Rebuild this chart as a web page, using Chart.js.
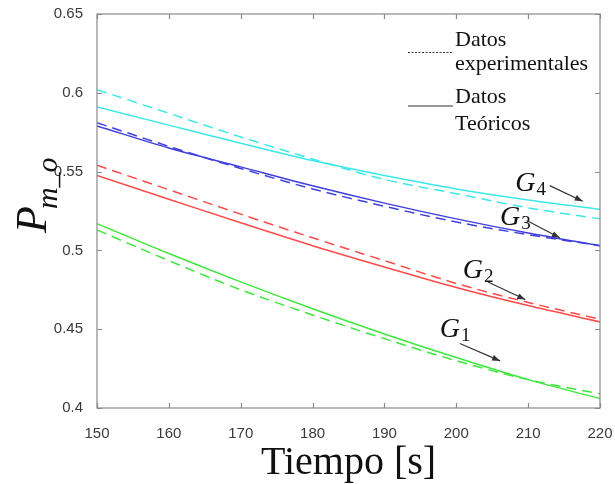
<!DOCTYPE html>
<html>
<head>
<meta charset="utf-8">
<script src="https://cdn.jsdelivr.net/npm/chart.js@4/dist/chart.umd.min.js"></script>
<style>
  html, body { margin: 0; padding: 0; background: #fff; }
  #wrap { width: 615px; height: 484px; }
</style>
</head>
<body>
<div id="wrap"><canvas id="c" width="615" height="484"></canvas></div>
<script>
// ---- Data ----
const times = [150, 160, 170, 180, 190, 200, 210, 220];
const xTicks = [150, 160, 170, 180, 190, 200, 210, 220];
const yTicks = [0.4, 0.45, 0.5, 0.55, 0.6, 0.65];

const g1Exp = [0.513, 0.4935, 0.475, 0.459, 0.444, 0.430, 0.418, 0.409];
const g1Teo = [0.517, 0.498, 0.480, 0.463, 0.447, 0.432, 0.418, 0.406];
const g2Exp = [0.554, 0.5385, 0.523, 0.508, 0.4935, 0.479, 0.467, 0.4563];
const g2Teo = [0.5475, 0.5325, 0.5175, 0.503, 0.4895, 0.4765, 0.465, 0.4546];
const g3Exp = [0.581, 0.566, 0.552, 0.539, 0.528, 0.518, 0.510, 0.503];
const g3Teo = [0.579, 0.565, 0.553, 0.541, 0.530, 0.520, 0.511, 0.503];
const g4Exp = [0.602, 0.587, 0.572, 0.558, 0.545, 0.536, 0.527, 0.520];
const g4Teo = [0.591, 0.5795, 0.568, 0.557, 0.5475, 0.539, 0.532, 0.526];

const legendExpLines = ['Datos', 'experimentales'];
const legendTeoLines = ['Datos', 'Teóricos'];
const xTitle = 'Tiempo [s]';
const yTitleMain = 'P';
const yTitleSub = 'm_o';

// group labels: [name, subscript, labelT, labelV, arrowFromT, arrowFromV, arrowToT, arrowToV]
const groupLabels = [
  ['G', '1', 197.7, 0.4449, 200.5, 0.4409, 206.1, 0.4299],
  ['G', '2', 200.9, 0.4823, 204.4, 0.4799, 209.6, 0.4688],
  ['G', '3', 206.1, 0.5158, 209.8, 0.5190, 214.4, 0.5080],
  ['G', '4', 208.2, 0.5380, 213.0, 0.5411, 217.6, 0.5312]
];

const colors = { g1: '#3de83d', g2: '#ff4a4a', g3: '#3f3fdc', g4: '#3ee8e8' };

function pts(arr) { return times.map((t, i) => ({ x: t, y: arr[i] })); }
function ds(label, arr, color, dashed) {
  return {
    label, data: pts(arr), borderColor: color, backgroundColor: color,
    borderWidth: 1.5, pointRadius: 0, fill: false,
    cubicInterpolationMode: 'monotone',
    borderDash: dashed ? [10, 6] : []
  };
}

const datasets = [
  ds('G1 exp', g1Exp, colors.g1, true), ds('G1 teo', g1Teo, colors.g1, false),
  ds('G2 exp', g2Exp, colors.g2, true), ds('G2 teo', g2Teo, colors.g2, false),
  ds('G3 exp', g3Exp, colors.g3, true), ds('G3 teo', g3Teo, colors.g3, false),
  ds('G4 exp', g4Exp, colors.g4, true), ds('G4 teo', g4Teo, colors.g4, false)
];

const decorPlugin = {
  id: 'decor',
  afterDraw(chart) {
    const ctx = chart.ctx;
    const a = chart.chartArea;
    const xs = chart.scales.x, ys = chart.scales.y;
    ctx.save();
    // box
    ctx.strokeStyle = '#8a8a8a';
    ctx.lineWidth = 1.2;
    ctx.setLineDash([]);
    ctx.strokeRect(a.left, a.top, a.right - a.left, a.bottom - a.top);
    // inward ticks
    ctx.beginPath();
    const tl = 5;
    xTicks.forEach(v => {
      const px = Math.round(xs.getPixelForValue(v)) + 0.5;
      ctx.moveTo(px, a.bottom); ctx.lineTo(px, a.bottom - tl);
      ctx.moveTo(px, a.top); ctx.lineTo(px, a.top + tl);
    });
    yTicks.forEach(v => {
      const py = Math.round(ys.getPixelForValue(v)) + 0.5;
      ctx.moveTo(a.left, py); ctx.lineTo(a.left + tl, py);
      ctx.moveTo(a.right, py); ctx.lineTo(a.right - tl, py);
    });
    ctx.stroke();

    // legend
    ctx.fillStyle = '#111';
    ctx.font = '22px "Liberation Serif", "Times New Roman", serif';
    ctx.textAlign = 'left';
    ctx.textBaseline = 'alphabetic';
    ctx.fillText(legendExpLines[0], 455, 46);
    ctx.fillText(legendExpLines[1], 455, 70);
    ctx.fillText(legendTeoLines[0], 455, 103);
    ctx.fillText(legendTeoLines[1], 455, 130);
    ctx.strokeStyle = '#333';
    ctx.lineWidth = 1;
    ctx.setLineDash([2, 1.5]);
    ctx.beginPath(); ctx.moveTo(408, 52.5); ctx.lineTo(452, 52.5); ctx.stroke();
    ctx.setLineDash([]);
    ctx.lineWidth = 1.2;
    ctx.beginPath(); ctx.moveTo(408, 106); ctx.lineTo(453, 106); ctx.stroke();

    // group labels + arrows
    groupLabels.forEach(g => {
      const lx = xs.getPixelForValue(g[2]), ly = ys.getPixelForValue(g[3]);
      ctx.fillStyle = '#111';
      ctx.font = 'italic 28px "Liberation Serif", "Times New Roman", serif';
      ctx.fillText(g[0], lx, ly);
      const w = ctx.measureText(g[0]).width;
      ctx.font = '19px "Liberation Serif", "Times New Roman", serif';
      ctx.fillText(g[1], lx + w + 1, ly + 4);
      const x1 = xs.getPixelForValue(g[4]), y1 = ys.getPixelForValue(g[5]);
      const x2 = xs.getPixelForValue(g[6]), y2 = ys.getPixelForValue(g[7]);
      ctx.strokeStyle = '#333';
      ctx.lineWidth = 1.2;
      ctx.beginPath(); ctx.moveTo(x1, y1); ctx.lineTo(x2, y2); ctx.stroke();
      const ang = Math.atan2(y2 - y1, x2 - x1);
      const hl = 8, hw = 3;
      ctx.fillStyle = '#333';
      ctx.beginPath();
      ctx.moveTo(x2, y2);
      ctx.lineTo(x2 - hl * Math.cos(ang) + hw * Math.sin(ang), y2 - hl * Math.sin(ang) - hw * Math.cos(ang));
      ctx.lineTo(x2 - hl * Math.cos(ang) - hw * Math.sin(ang), y2 - hl * Math.sin(ang) + hw * Math.cos(ang));
      ctx.closePath(); ctx.fill();
    });

    // x title
    ctx.fillStyle = '#111';
    ctx.font = '40px "Liberation Serif", "Times New Roman", serif';
    ctx.textAlign = 'center';
    ctx.fillText(xTitle, (a.left + a.right) / 2, 474);

    // y title (rotated)
    ctx.save();
    ctx.translate(46, 233);
    ctx.rotate(-Math.PI / 2);
    ctx.textAlign = 'left';
    ctx.font = 'italic 44px "Liberation Serif", "Times New Roman", serif';
    ctx.fillText(yTitleMain, 0, 0);
    const pw = ctx.measureText(yTitleMain).width;
    ctx.font = 'italic 30px "Liberation Serif", "Times New Roman", serif';
    ctx.fillText(yTitleSub, pw - 3, 11);
    ctx.restore();

    ctx.restore();
  }
};

new Chart(document.getElementById('c'), {
  type: 'line',
  data: { datasets },
  options: {
    responsive: false,
    animation: false,
    layout: { padding: { top: 14, right: 15, left: 0, bottom: 0 } },
    plugins: { legend: { display: false }, tooltip: { enabled: false } },
    scales: {
      x: {
        type: 'linear', min: 150, max: 220,
        afterBuildTicks: (s) => { s.ticks = xTicks.map(v => ({ value: v })); },
        afterFit: (s) => { s.height = 76; s.paddingLeft = 0; s.paddingRight = 0; },
        grid: { display: false },
        border: { display: false },
        ticks: { color: '#3a3a3a', padding: 9, font: { family: '"Liberation Sans", Arial, sans-serif', size: 15 }, callback: v => String(v) }
      },
      y: {
        type: 'linear', min: 0.4, max: 0.65,
        afterBuildTicks: (s) => { s.ticks = yTicks.map(v => ({ value: v })); },
        afterFit: (s) => { s.width = 97; s.paddingTop = 0; s.paddingBottom = 0; },
        grid: { display: false },
        border: { display: false },
        ticks: { color: '#3a3a3a', padding: 6, font: { family: '"Liberation Sans", Arial, sans-serif', size: 15 }, callback: v => String(Math.round(v * 100) / 100) }
      }
    }
  },
  plugins: [decorPlugin]
});
</script>
</body>
</html>
